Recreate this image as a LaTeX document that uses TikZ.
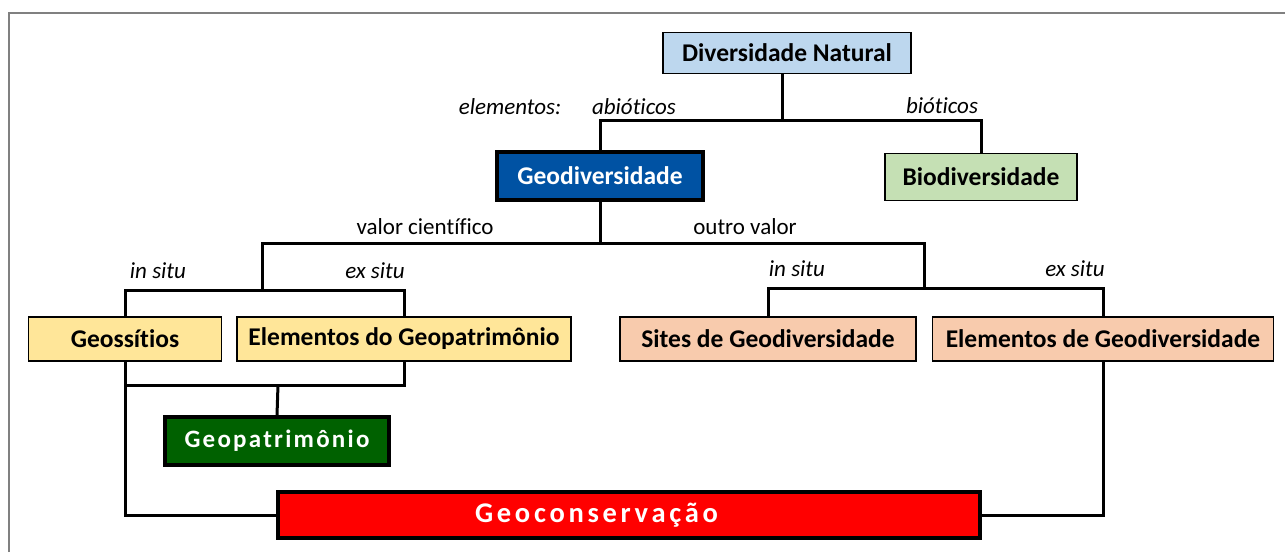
\documentclass[tikz,border=0pt]{standalone}
\usepackage{fontspec}
\setmainfont{Carlito}[Ligatures=CommonOff]
\definecolor{lblue}{HTML}{BDD7EE}
\definecolor{dblue}{HTML}{0052A3}
\definecolor{lgreen}{HTML}{C5E0B4}
\definecolor{lyellow}{HTML}{FFE699}
\definecolor{lpeach}{HTML}{F8CBAD}
\definecolor{dgreen}{HTML}{006100}
\definecolor{frame}{HTML}{808080}
\tikzset{
  box/.style={draw=black, line width=1.8pt, inner sep=0pt, font=\fontsize{25.5}{28}\selectfont\bfseries},
  strongbox/.style={box, line width=3.5pt, text=white},
  conn/.style={draw=black, line width=3pt},
  lab/.style={inner sep=0pt, font=\fontsize{23}{25}\selectfont},
  ilab/.style={lab, font=\fontsize{23}{25}\selectfont\itshape},
}
\begin{document}
\begin{tikzpicture}[x=1pt,y=-1pt]
\useasboundingbox (0,0) rectangle (1285,552);
\draw[frame, line width=1.3pt] (9,552) -- (9,13) -- (1285,13);

\node[box, fill=lblue, minimum width=248, minimum height=41] (dn) at (787,53) {Diversidade Natural};
\node[strongbox, fill=dblue, minimum width=206, minimum height=48] (geo) at (600,176) {Geodiversidade};
\node[box, fill=lgreen, minimum width=192, minimum height=47] (bio) at (981,177) {Biodiversidade};
\node[box, fill=lyellow, minimum width=193, minimum height=44] (gs) at (125,339) {Geossítios};
\node[box, fill=lyellow, minimum width=334, minimum height=44] (egp) at (404,339) {Elementos do Geopatrimônio};
\node[box, fill=lpeach, minimum width=296, minimum height=44] (sg) at (768,339) {Sites de Geodiversidade};
\node[box, fill=lpeach, minimum width=341, minimum height=44] (eg) at (1103,339) {Elementos de Geodiversidade};
\node[strongbox, fill=dgreen, minimum width=224, minimum height=48, font=\fontsize{25}{27}\selectfont\bfseries\addfontfeatures{LetterSpace=9}] (gp) at (277,441) {Geopatrimônio};
\node[strongbox, fill=red, minimum width=702, minimum height=46, font=\fontsize{28.5}{30}\selectfont\bfseries\addfontfeatures{LetterSpace=13}] (gc) at (629,515) {Geoconservação\hspace*{65pt}};

\coordinate (j1) at (782,120);
\coordinate (j2) at (600,243);
\coordinate (L) at (262,290);
\coordinate (R) at (924,288);
\coordinate (B) at (278,385);

\draw[conn] ([xshift=-5pt]dn.south) -- (j1);
\draw[conn] (geo.north) |- (j1) -| (bio.north);
\draw[conn] (geo.south) -- (j2);
\draw[conn] (L) |- (j2) -| (R);
\draw[conn] (gs.north) |- (L) -| (egp.north);
\draw[conn] (sg.north) |- (R) -| (eg.north);
\draw[conn] (gs.south) |- (B) -| (egp.south);
\draw[conn] (B) -- (gp.north);
\draw[conn] (gs.south) |- (gc.west);
\draw[conn] (eg.south) |- (gc.east);

\node[ilab] (t1) at (510,107) {elementos:};
\node[ilab] (t2) at (634,107) {abióticos};
\node[ilab] (t3) at (942,106) {bióticos};
\node[lab] (t4) at (425,227) {valor científico};
\node[lab] (t5) at (745,227) {outro valor};
\node[ilab] (t6) at (158,271) {in situ};
\node[ilab] (t7) at (375,271) {ex situ};
\node[ilab] (t8) at (797,269) {in situ};
\node[ilab] (t9) at (1075,269) {ex situ};
\end{tikzpicture}
\end{document}
